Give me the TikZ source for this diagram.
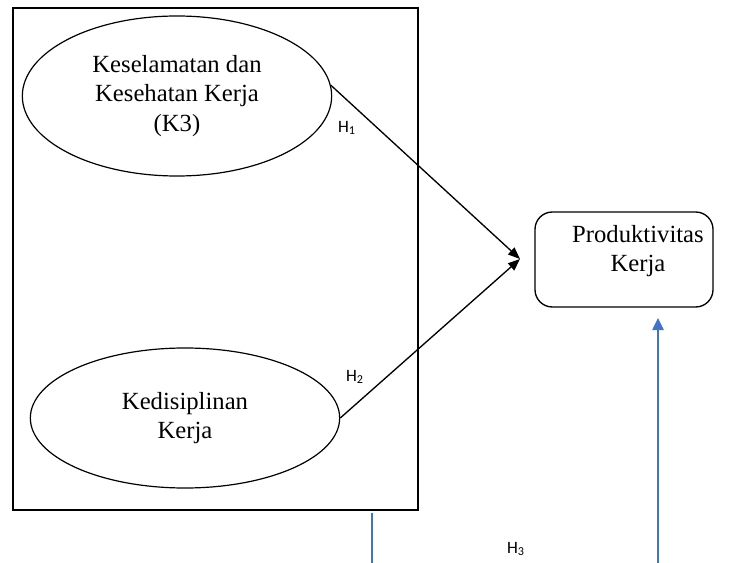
\documentclass[tikz,border=0pt]{standalone}
\usepackage{fontspec}
\setmainfont{Liberation Serif}
\newfontfamily\hfont{Carlito}
\usepackage{tikz}
\usetikzlibrary{shapes.geometric,arrows.meta,positioning}
\definecolor{wordblue}{HTML}{4472C4}

\begin{document}
\begin{tikzpicture}[x=0.75pt,y=-0.75pt,
    var/.style={draw,ellipse,line width=0.9pt,inner sep=0pt,align=center,font=\fontsize{18.5}{22}\selectfont},
    hyp/.style={font=\hfont\fontsize{13}{15}\selectfont},
    link/.style={line width=1pt,-{Triangle[length=9pt,width=7pt]}},
    bline/.style={wordblue,line width=1.1pt}]
  \useasboundingbox (0,0) rectangle (736,563);
  % Draw the frame round the two variables
  \draw[line width=1pt] (13,8) rectangle (418,510);
  % Draw the variables
  \node[var,minimum width=232pt,minimum height=120pt] (k3) at (177,96) {Keselamatan dan\\Kesehatan Kerja\\(K3)};
  \node[var,minimum width=232pt,minimum height=105pt] (kd) at (185,418) {Kedisiplinan\\Kerja};
  \node[draw,rounded corners=13pt,line width=1pt,minimum width=133.5pt,minimum height=71.25pt] (prod) at (624,259.5) {};
  \node[align=center,font=\fontsize{18.5}{22}\selectfont] (prodtxt) at (638,251) {Produktivitas\\Kerja};
  % Draw the hypotheses
  \coordinate (hub) at (520,259);
  \draw[link] (k3.4) -- (hub);
  \draw[link] (kd.east) -- (hub);
  \coordinate (b1top) at (372,513);
  \coordinate (b1bot) at (372,563);
  \coordinate (b2bot) at (658,563);
  \coordinate (b2top) at (658,318);
  \draw[bline] (b1top) -- (b1bot);
  \draw[bline,-{Triangle[length=9pt,width=8.5pt]}] (b2bot) -- (b2top);
  % label the hypotheses
  \node[hyp] (h1) at (347,128) {H\textsubscript{1}};
  \node[hyp] (h2) at (355,377) {H\textsubscript{2}};
  \node[hyp] (h3) at (516,549) {H\textsubscript{3}};
\end{tikzpicture}
\end{document}
